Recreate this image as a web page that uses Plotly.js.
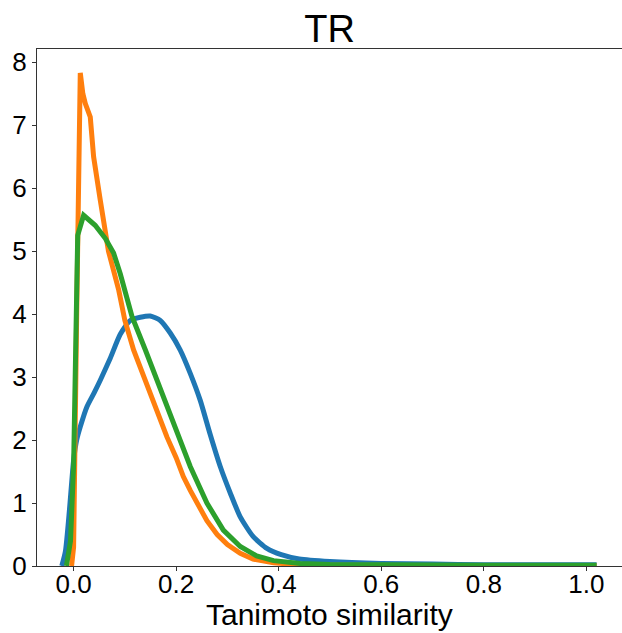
<!DOCTYPE html>
<html>
<head>
<meta charset="utf-8">
<script src="https://cdn.plot.ly/plotly-3.0.1.min.js"></script>
<style>html,body{margin:0;padding:0;overflow:hidden;background:#fff;}</style>
</head>
<body>
<div id="chart" style="width:622px;height:633px;"></div>
<script>
// Blue series
const blueX = [-0.023, -0.016, -0.008, 0.0, 0.006, 0.013, 0.026, 0.04, 0.052, 0.0715, 0.091, 0.1105, 0.13, 0.1495, 0.169, 0.1885, 0.208, 0.2275, 0.247, 0.266, 0.286, 0.3055, 0.325, 0.35, 0.377, 0.405, 0.44, 0.5, 0.6, 0.7, 0.8, 0.9, 1.02];
const blueY = [0, 0.23, 0.9, 1.68, 2.0, 2.21, 2.53, 2.75, 2.95, 3.3, 3.68, 3.9, 3.95, 3.97, 3.9, 3.7, 3.43, 3.06, 2.63, 2.1, 1.58, 1.16, 0.78, 0.47, 0.28, 0.18, 0.11, 0.07, 0.04, 0.03, 0.02, 0.02, 0.02];
// Orange series
const orangeX = [-0.004, 0.0, 0.006, 0.013, 0.018, 0.023, 0.0325, 0.039, 0.052, 0.068, 0.088, 0.1, 0.117, 0.13, 0.15, 0.182, 0.2, 0.214, 0.2275, 0.247, 0.26, 0.28, 0.3, 0.325, 0.35, 0.39, 0.44, 0.5, 0.6, 0.8, 1.02];
const orangeY = [0, 0.3, 4.0, 7.83, 7.5, 7.34, 7.13, 6.5, 5.81, 5.0, 4.38, 3.9, 3.43, 3.15, 2.75, 2.05, 1.72, 1.42, 1.2, 0.89, 0.72, 0.5, 0.34, 0.2, 0.11, 0.05, 0.02, 0.01, 0.005, 0.005, 0.005];
// Green series
const greenX = [-0.014, -0.006, 0.0, 0.004, 0.008, 0.0195, 0.03, 0.042, 0.062, 0.078, 0.091, 0.114, 0.14, 0.172, 0.195, 0.2275, 0.26, 0.292, 0.325, 0.357, 0.39, 0.442, 0.5, 0.6, 0.8, 1.02];
const greenY = [0, 0.4, 1.6, 4.0, 5.25, 5.57, 5.5, 5.41, 5.2, 4.97, 4.64, 3.96, 3.43, 2.74, 2.27, 1.58, 1.0, 0.57, 0.31, 0.16, 0.085, 0.04, 0.025, 0.015, 0.01, 0.01];

const xTicks = [0.0, 0.2, 0.4, 0.6, 0.8, 1.0];
const xTickText = ['0.0', '0.2', '0.4', '0.6', '0.8', '1.0'];
const yTicks = [0, 1, 2, 3, 4, 5, 6, 7, 8];
const titleText = 'TR';
const xTitleText = 'Tanimoto similarity';
const xRange = [-0.0714, 1.0696];

const font = 'Liberation Sans, Arial, sans-serif';
const mk = (x, y, c, shape) => ({x: x, y: y, type: 'scatter', mode: 'lines',
  line: {color: c, width: 5, shape: shape, smoothing: 0.6}, hoverinfo: 'skip', showlegend: false});

const data = [
  mk(blueX, blueY, '#1f77b4', 'spline'),
  mk(orangeX, orangeY, '#ff7f0e', 'linear'),
  mk(greenX, greenY, '#2ca02c', 'linear'),
  // invisible helper so the label-only x axis is drawn
  {x: [xTicks[0]], y: [yTicks[0]], xaxis: 'x2', yaxis: 'y', type: 'scatter', mode: 'markers',
   marker: {opacity: 0, size: 1}, hoverinfo: 'skip', showlegend: false}
];

const layout = {
  width: 622, height: 633,
  margin: {l: 37, r: 0, t: 49, b: 67, pad: 0},
  paper_bgcolor: '#fff', plot_bgcolor: '#fff',
  showlegend: false,
  title: {text: titleText, font: {family: font, size: 38, color: '#000'},
    x: 0.53, xanchor: 'center', y: 0.955, yanchor: 'middle', yref: 'container'},
  xaxis: {
    range: xRange, tickvals: xTicks, showticklabels: false,
    ticks: 'outside', ticklen: 4, tickwidth: 1, tickcolor: '#333',
    showline: true, mirror: true, linecolor: '#333', linewidth: 1,
    showgrid: false, zeroline: false,
    automargin: false
  },
  xaxis2: {
    overlaying: 'x', anchor: 'y', side: 'bottom',
    range: xRange, tickvals: xTicks, ticktext: xTickText,
    ticks: '', showline: false, showgrid: false, zeroline: false,
    tickfont: {family: font, size: 26, color: '#000'},
    automargin: false
  },
  yaxis: {
    range: [0, 8.21], tickvals: yTicks,
    ticks: 'outside', ticklen: 4, tickwidth: 1, tickcolor: '#333',
    showline: true, mirror: false, linecolor: '#333', linewidth: 1,
    showgrid: false, zeroline: false,
    tickfont: {family: font, size: 26, color: '#000'},
    automargin: false
  },
  annotations: [{
    text: xTitleText, xref: 'paper', yref: 'paper',
    x: 0.5, y: -0.094, xanchor: 'center', yanchor: 'middle',
    showarrow: false, font: {family: font, size: 30, color: '#000'}
  }]
};

Plotly.newPlot('chart', data, layout, {staticPlot: true, displayModeBar: false});
</script>
</body>
</html>
